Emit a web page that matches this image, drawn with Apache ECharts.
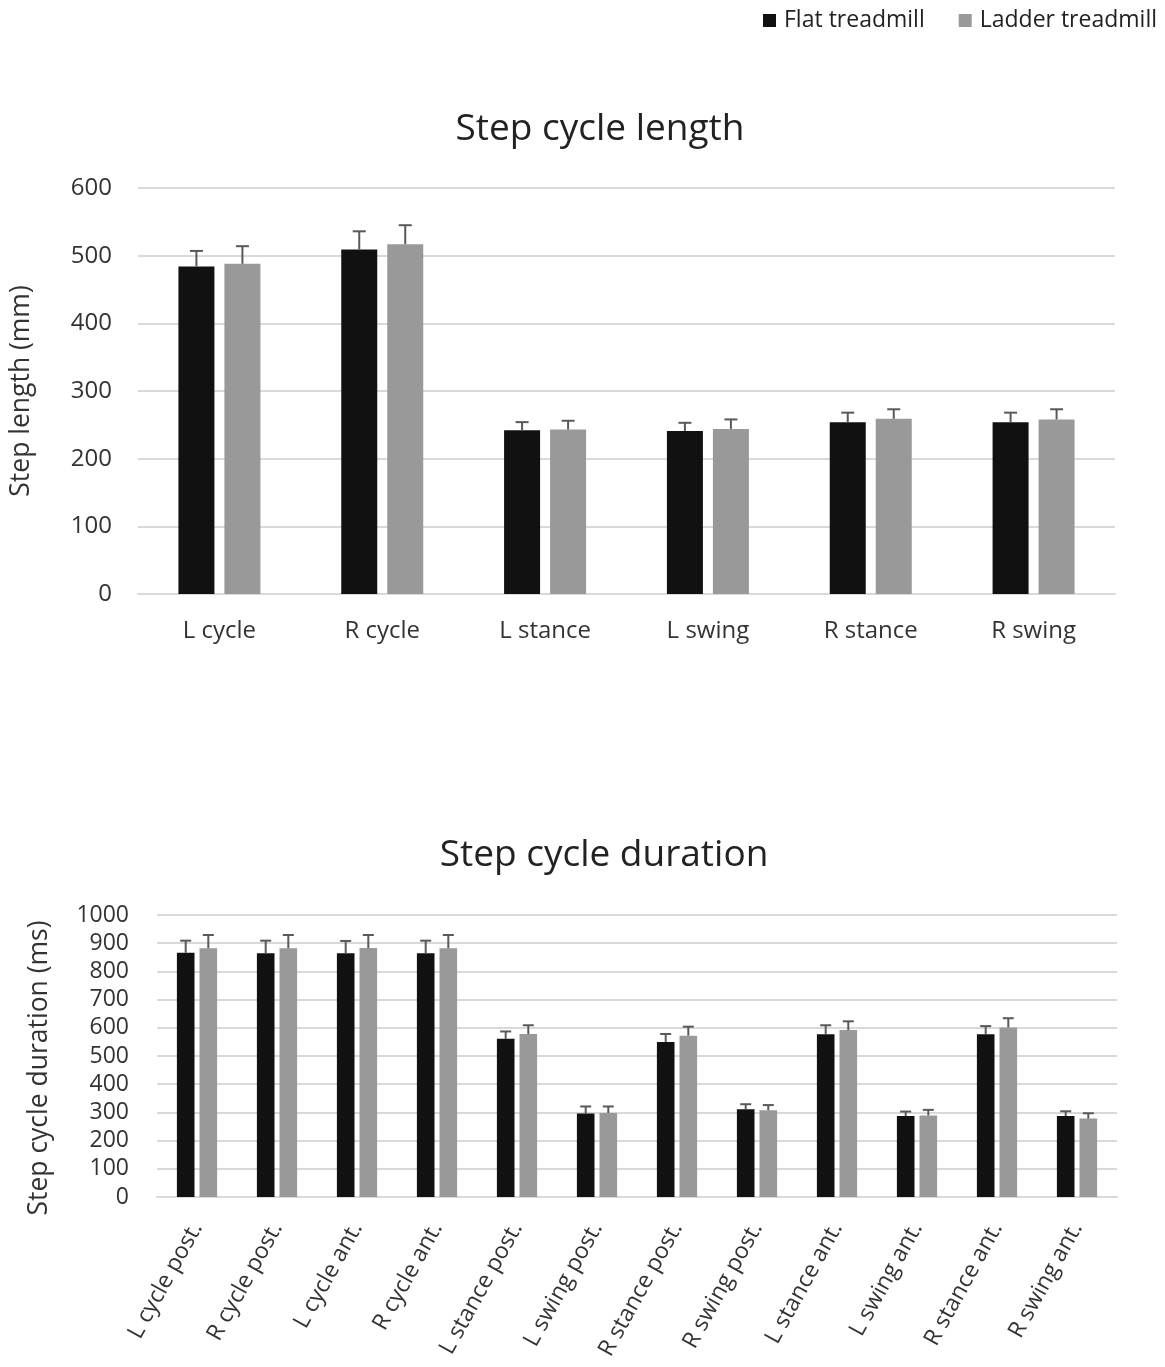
<!DOCTYPE html>
<html>
<head>
<meta charset="utf-8">
<script src="https://cdn.jsdelivr.net/npm/echarts@6/dist/echarts.min.js"></script>
<style>
  html, body { margin: 0; padding: 0; background: #fff; }
  #chart { width: 1165px; height: 1367px; }
</style>
</head>
<body>
<div id="chart"></div>
<script>
// step cycle length (mm)
const lengthCats = ['L cycle', 'R cycle', 'L stance', 'L swing', 'R stance', 'R swing']
const lengthFlat = [484, 509, 242, 241, 254, 254]
const lengthFlatErr = [23, 27, 12, 12, 14, 14]
const lengthLadder = [488, 517, 243, 244, 259, 258]
const lengthLadderErr = [26, 28, 13, 14, 14, 15]

// step cycle duration (ms)
const durCats = ['L cycle post.', 'R cycle post.', 'L cycle ant.', 'R cycle ant.',
  'L stance post.', 'L swing post.', 'R stance post.', 'R swing post.',
  'L stance ant.', 'L swing ant.', 'R stance ant.', 'R swing ant.']
const durFlat = [866, 864, 864, 864, 561, 296, 550, 311, 577, 287, 577, 287]
const durFlatErr = [43, 45, 44, 45, 26, 25, 28, 18, 32, 16, 29, 17]
const durLadder = [882, 882, 883, 882, 578, 298, 572, 308, 592, 289, 601, 278]
const durLadderErr = [47, 47, 46, 47, 31, 23, 32, 18, 31, 20, 33, 19]

const FONT = '"Open Sans", sans-serif'
const TEXT = '#333'
const GRID_LINE = '#d9d9d9'
const FLAT_COLOR = '#111'
const LADDER_COLOR = '#999'

// bar geometry per chart (px)
const BAR1 = 36, GAP1 = 10
const BAR2 = 17.6, GAP2 = 5

// 误差线
function errorSeries(name, vals, errs, axisIdx, barW, gap, side, cap) {
  return {
    name: name,
    type: 'custom',
    xAxisIndex: axisIdx,
    yAxisIndex: axisIdx,
    silent: true,
    z: 3,
    data: vals.map((v, i) => [i, v, v + errs[i]]),
    renderItem: (params, api) => {
      const base = api.coord([api.value(0), api.value(1)])
      const top = api.coord([api.value(0), api.value(2)])
      const x = base[0] + side * (barW + gap) / 2
      const style = { stroke: '#595959', lineWidth: 2 }
      return {
        type: 'group',
        children: [
          { type: 'line', shape: { x1: x, y1: base[1], x2: x, y2: top[1] }, style: style },
          { type: 'line', shape: { x1: x - cap / 2, y1: top[1], x2: x + cap / 2, y2: top[1] }, style: style }
        ]
      }
    }
  }
}

const chart = echarts.init(document.getElementById('chart'))

const option = {
  backgroundColor: '#fff',
  animation: false,
  textStyle: { fontFamily: FONT },
  title: [
    {
      text: 'Step cycle length',
      left: 595, top: 106, textAlign: 'center',
      textStyle: { fontFamily: FONT, fontSize: 37, fontWeight: 'normal', color: '#222' }
    },
    {
      text: 'Step cycle duration',
      left: 599, top: 832, textAlign: 'center',
      textStyle: { fontFamily: FONT, fontSize: 37, fontWeight: 'normal', color: '#222' }
    }
  ],
  legend: {
    right: 3, top: 4,
    itemWidth: 13, itemHeight: 13, itemGap: 34,
    icon: 'rect',
    textStyle: { fontFamily: FONT, fontSize: 23, color: '#222', padding: [0, 0, 0, 3] },
    data: ['Flat treadmill', 'Ladder treadmill']
  },
  grid: [
    { left: 138, right: 50, top: 188, height: 406 },
    { left: 157, right: 48, top: 915, height: 282 }
  ],
  xAxis: [
    {
      type: 'category', gridIndex: 0, data: lengthCats,
      axisLine: { lineStyle: { color: GRID_LINE, width: 2 } },
      axisTick: { show: false },
      axisLabel: { fontFamily: FONT, fontSize: 24, color: TEXT, margin: 25 }
    },
    {
      type: 'category', gridIndex: 1, data: durCats,
      axisLine: { lineStyle: { color: GRID_LINE, width: 2 } },
      axisTick: { show: false },
      axisLabel: { fontFamily: FONT, fontSize: 23, color: TEXT, rotate: 61, margin: 27 }
    }
  ],
  yAxis: [
    {
      type: 'value', gridIndex: 0, min: 0, max: 600, interval: 100,
      name: 'Step length (mm)', nameLocation: 'middle', nameGap: 103,
      nameTextStyle: { fontFamily: FONT, fontSize: 26.5, color: TEXT },
      axisLine: { show: false }, axisTick: { show: false },
      axisLabel: { fontFamily: FONT, fontSize: 24, color: TEXT, margin: 26 },
      splitLine: { lineStyle: { color: GRID_LINE, width: 2 } }
    },
    {
      type: 'value', gridIndex: 1, min: 0, max: 1000, interval: 100,
      name: 'Step cycle duration (ms)', nameLocation: 'middle', nameGap: 104,
      nameTextStyle: { fontFamily: FONT, fontSize: 26.5, color: TEXT, padding: [0, 24, 0, 0] },
      axisLine: { show: false }, axisTick: { show: false },
      axisLabel: { fontFamily: FONT, fontSize: 23, color: TEXT, margin: 28, formatter: v => String(v) },
      splitLine: { lineStyle: { color: GRID_LINE, width: 2 } }
    }
  ],
  series: [
    {
      name: 'Flat treadmill', type: 'bar', xAxisIndex: 0, yAxisIndex: 0,
      data: lengthFlat, barWidth: BAR1, barGap: (GAP1 / BAR1 * 100) + '%',
      itemStyle: { color: FLAT_COLOR }
    },
    {
      name: 'Ladder treadmill', type: 'bar', xAxisIndex: 0, yAxisIndex: 0,
      data: lengthLadder, barWidth: BAR1, barGap: (GAP1 / BAR1 * 100) + '%',
      itemStyle: { color: LADDER_COLOR }
    },
    {
      name: 'Flat treadmill', type: 'bar', xAxisIndex: 1, yAxisIndex: 1,
      data: durFlat, barWidth: BAR2, barGap: (GAP2 / BAR2 * 100) + '%',
      itemStyle: { color: FLAT_COLOR }
    },
    {
      name: 'Ladder treadmill', type: 'bar', xAxisIndex: 1, yAxisIndex: 1,
      data: durLadder, barWidth: BAR2, barGap: (GAP2 / BAR2 * 100) + '%',
      itemStyle: { color: LADDER_COLOR }
    },
    errorSeries('flat-err-1', lengthFlat, lengthFlatErr, 0, BAR1, GAP1, -1, 13),
    errorSeries('ladder-err-1', lengthLadder, lengthLadderErr, 0, BAR1, GAP1, 1, 13),
    errorSeries('flat-err-2', durFlat, durFlatErr, 1, BAR2, GAP2, -1, 11),
    errorSeries('ladder-err-2', durLadder, durLadderErr, 1, BAR2, GAP2, 1, 11)
  ]
}

chart.setOption(option)
</script>
</body>
</html>
